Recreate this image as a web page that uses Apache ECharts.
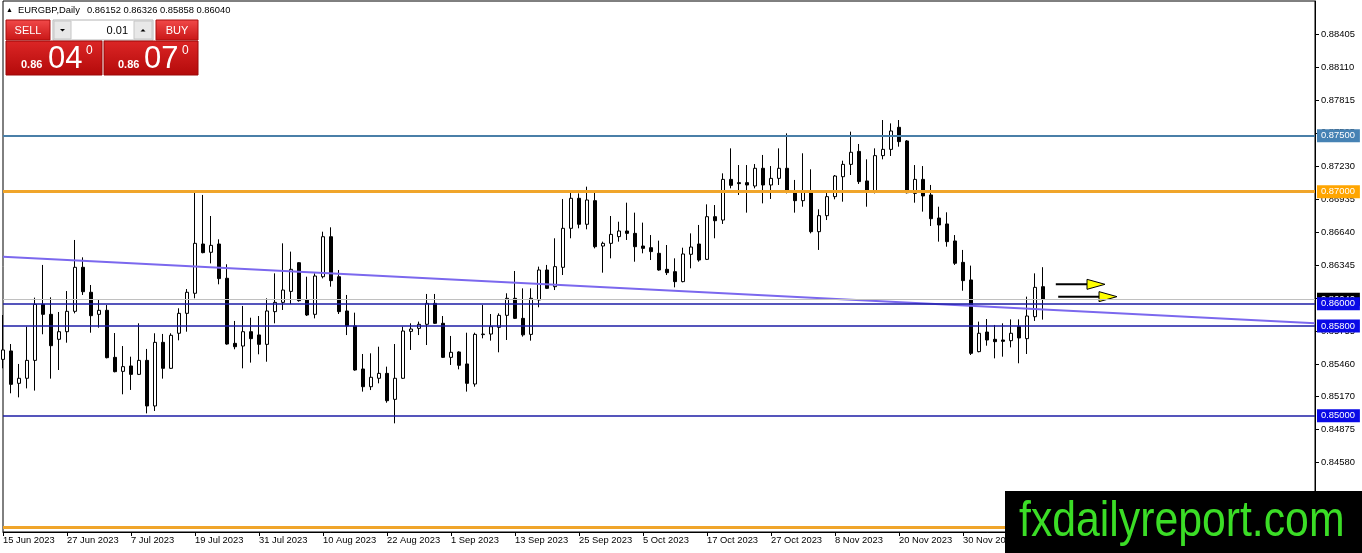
<!DOCTYPE html>
<html>
	<head>
		<meta charset="utf-8" />
		<title>EURGBP,Daily</title>
		<script type="text/javascript" src="https://cdn.jsdelivr.net/npm/echarts@6/dist/echarts.min.js"></script>
		<style>
			html, body { margin: 0; padding: 0; background: #fff; }
		</style>
		<script type="text/javascript">
		var myChart;

		var symbolName = 'EURGBP,Daily';

		var dates = [
			'15 Jun 2023','16 Jun 2023','19 Jun 2023','20 Jun 2023','21 Jun 2023','22 Jun 2023','23 Jun 2023','26 Jun 2023','27 Jun 2023','28 Jun 2023','29 Jun 2023','30 Jun 2023',
			'3 Jul 2023','4 Jul 2023','5 Jul 2023','6 Jul 2023','7 Jul 2023','10 Jul 2023','11 Jul 2023','12 Jul 2023','13 Jul 2023','14 Jul 2023','17 Jul 2023','18 Jul 2023','19 Jul 2023','20 Jul 2023','21 Jul 2023','24 Jul 2023','25 Jul 2023','26 Jul 2023','27 Jul 2023','28 Jul 2023','31 Jul 2023',
			'1 Aug 2023','2 Aug 2023','3 Aug 2023','4 Aug 2023','7 Aug 2023','8 Aug 2023','9 Aug 2023','10 Aug 2023','11 Aug 2023','14 Aug 2023','15 Aug 2023','16 Aug 2023','17 Aug 2023','18 Aug 2023','21 Aug 2023','22 Aug 2023','23 Aug 2023','24 Aug 2023','25 Aug 2023','28 Aug 2023','29 Aug 2023','30 Aug 2023','31 Aug 2023',
			'1 Sep 2023','4 Sep 2023','5 Sep 2023','6 Sep 2023','7 Sep 2023','8 Sep 2023','11 Sep 2023','12 Sep 2023','13 Sep 2023','14 Sep 2023','15 Sep 2023','18 Sep 2023','19 Sep 2023','20 Sep 2023','21 Sep 2023','22 Sep 2023','25 Sep 2023','26 Sep 2023','27 Sep 2023','28 Sep 2023','29 Sep 2023',
			'2 Oct 2023','3 Oct 2023','4 Oct 2023','5 Oct 2023','6 Oct 2023','9 Oct 2023','10 Oct 2023','11 Oct 2023','12 Oct 2023','13 Oct 2023','16 Oct 2023','17 Oct 2023','18 Oct 2023','19 Oct 2023','20 Oct 2023','23 Oct 2023','24 Oct 2023','25 Oct 2023','26 Oct 2023','27 Oct 2023','30 Oct 2023','31 Oct 2023',
			'1 Nov 2023','2 Nov 2023','3 Nov 2023','6 Nov 2023','7 Nov 2023','8 Nov 2023','9 Nov 2023','10 Nov 2023','13 Nov 2023','14 Nov 2023','15 Nov 2023','16 Nov 2023','17 Nov 2023','20 Nov 2023','21 Nov 2023','22 Nov 2023','23 Nov 2023','24 Nov 2023','27 Nov 2023','28 Nov 2023','29 Nov 2023','30 Nov 2023',
			'1 Dec 2023','4 Dec 2023','5 Dec 2023','6 Dec 2023','7 Dec 2023','8 Dec 2023','11 Dec 2023','12 Dec 2023','13 Dec 2023','14 Dec 2023'
		];

		var opens = [
			0.85503, 0.85578, 0.85289, 0.85334, 0.85494, 0.85994, 0.85905, 0.85682, 0.85750, 0.85932,
			0.86325, 0.86102, 0.85905, 0.85941, 0.85521, 0.85396, 0.85444, 0.85369, 0.85494, 0.85087,
			0.85655, 0.85423, 0.85736, 0.85914, 0.86093, 0.86533, 0.86459, 0.86533, 0.86227, 0.85646,
			0.85622, 0.85750, 0.85721, 0.85637, 0.85929, 0.86012, 0.86110, 0.86366, 0.86033, 0.85905,
			0.86241, 0.86598, 0.86241, 0.85935, 0.85801, 0.85417, 0.85259, 0.85334, 0.85378, 0.85146,
			0.85334, 0.85753, 0.85780, 0.85816, 0.86003, 0.85825, 0.85521, 0.85569, 0.85462, 0.85283,
			0.85724, 0.85729, 0.85789, 0.85896, 0.86048, 0.85869, 0.85726, 0.86033, 0.86301, 0.86152,
			0.86325, 0.86673, 0.86941, 0.86709, 0.86920, 0.86515, 0.86539, 0.86599, 0.86649, 0.86628,
			0.86515, 0.86500, 0.86450, 0.86307, 0.86286, 0.86197, 0.86441, 0.86533, 0.86396, 0.86777,
			0.86747, 0.87110, 0.87081, 0.87081, 0.87051, 0.87209, 0.87060, 0.87119, 0.87209, 0.87000,
			0.86920, 0.87009, 0.86643, 0.86786, 0.86956, 0.87134, 0.87244, 0.87360, 0.87096, 0.87000,
			0.87322, 0.87378, 0.87575, 0.87453, 0.86985, 0.87110, 0.86971, 0.86765, 0.86712, 0.86560,
			0.86369, 0.86212, 0.85572, 0.85747, 0.85682, 0.85676, 0.85670, 0.85795, 0.85688, 0.85884, 0.86152
		];
		var highs = [
			0.85899, 0.85640, 0.85462, 0.85795, 0.86054, 0.86346, 0.86057, 0.85926, 0.86113, 0.86569,
			0.86414, 0.86167, 0.86033, 0.85988, 0.85738, 0.85622, 0.85527, 0.85825, 0.85596, 0.85736,
			0.85730, 0.85736, 0.85959, 0.86131, 0.86991, 0.86971, 0.86783, 0.86575, 0.86352, 0.85846,
			0.85980, 0.85875, 0.85890, 0.86048, 0.86271, 0.86539, 0.86465, 0.86370, 0.86241, 0.86271,
			0.86643, 0.86682, 0.86301, 0.86078, 0.85920, 0.85551, 0.85557, 0.85616, 0.85438, 0.85640,
			0.85795, 0.85825, 0.85840, 0.86087, 0.86087, 0.85890, 0.85712, 0.85575, 0.85741, 0.85741,
			0.85988, 0.85908, 0.85914, 0.86093, 0.86292, 0.86137, 0.86137, 0.86331, 0.86346, 0.86584,
			0.86935, 0.86991, 0.86985, 0.87045, 0.87000, 0.86554, 0.86783, 0.86732, 0.86902, 0.86813,
			0.86724, 0.86613, 0.86563, 0.86524, 0.86405, 0.86500, 0.86628, 0.86703, 0.86887, 0.86881,
			0.87164, 0.87387, 0.87238, 0.87238, 0.87247, 0.87328, 0.87229, 0.87387, 0.87521, 0.87105,
			0.87343, 0.87200, 0.86843, 0.87015, 0.87149, 0.87277, 0.87536, 0.87426, 0.87289, 0.87387,
			0.87640, 0.87610, 0.87640, 0.87461, 0.87238, 0.87229, 0.87060, 0.86866, 0.86816, 0.86613,
			0.86480, 0.86340, 0.85840, 0.85863, 0.85810, 0.85825, 0.85860, 0.85860, 0.86063, 0.86271, 0.86326
		];
		var lows = [
			0.85423, 0.85200, 0.85164, 0.85244, 0.85224, 0.85727, 0.85331, 0.85408, 0.85652, 0.85914,
			0.86078, 0.85741, 0.85786, 0.85512, 0.85387, 0.85191, 0.85230, 0.85363, 0.85021, 0.85042,
			0.85331, 0.85417, 0.85673, 0.85750, 0.86048, 0.86450, 0.86360, 0.86173, 0.85634, 0.85593,
			0.85423, 0.85474, 0.85548, 0.85482, 0.85825, 0.85944, 0.85997, 0.86018, 0.85890, 0.85869,
			0.86226, 0.86152, 0.85908, 0.85720, 0.85402, 0.85215, 0.85229, 0.85289, 0.85116, 0.84932,
			0.85328, 0.85587, 0.85720, 0.85631, 0.85819, 0.85515, 0.85453, 0.85414, 0.85215, 0.85259,
			0.85691, 0.85670, 0.85566, 0.85676, 0.85863, 0.85706, 0.85670, 0.85968, 0.86131, 0.86122,
			0.86256, 0.86584, 0.86673, 0.86664, 0.86494, 0.86277, 0.86405, 0.86554, 0.86569, 0.86375,
			0.86450, 0.86390, 0.86295, 0.86256, 0.86146, 0.86191, 0.86316, 0.86375, 0.86390, 0.86584,
			0.86712, 0.87030, 0.86971, 0.86813, 0.87030, 0.86896, 0.86935, 0.87060, 0.86985, 0.86813,
			0.86866, 0.86628, 0.86480, 0.86747, 0.86932, 0.86911, 0.87149, 0.87069, 0.86866, 0.86985,
			0.87289, 0.87319, 0.87402, 0.86985, 0.86902, 0.86822, 0.86694, 0.86554, 0.86509, 0.86346,
			0.86116, 0.85542, 0.85566, 0.85625, 0.85512, 0.85527, 0.85610, 0.85468, 0.85551, 0.85846, 0.85858
		];
		var closes = [
			0.85587, 0.85280, 0.85334, 0.85494, 0.85994, 0.85905, 0.85625, 0.85750, 0.85932, 0.86325,
			0.86107, 0.85893, 0.85941, 0.85518, 0.85393, 0.85438, 0.85369, 0.85494, 0.85087, 0.85655,
			0.85423, 0.85718, 0.85914, 0.86102, 0.86539, 0.86456, 0.86521, 0.86224, 0.85640, 0.85616,
			0.85750, 0.85688, 0.85637, 0.85935, 0.86012, 0.86122, 0.86307, 0.86027, 0.85899, 0.86247,
			0.86598, 0.86206, 0.85929, 0.85801, 0.85408, 0.85259, 0.85343, 0.85378, 0.85134, 0.85334,
			0.85756, 0.85774, 0.85816, 0.86003, 0.85825, 0.85521, 0.85566, 0.85450, 0.85289, 0.85726,
			0.85729, 0.85795, 0.85896, 0.86048, 0.85869, 0.85722, 0.86048, 0.86301, 0.86137, 0.86331,
			0.86673, 0.86941, 0.86709, 0.86926, 0.86509, 0.86539, 0.86619, 0.86649, 0.86628, 0.86509,
			0.86494, 0.86465, 0.86301, 0.86277, 0.86197, 0.86444, 0.86506, 0.86390, 0.86777, 0.86741,
			0.87110, 0.87057, 0.87072, 0.87060, 0.87209, 0.87060, 0.87119, 0.87209, 0.87000, 0.86920,
			0.87009, 0.86643, 0.86786, 0.86956, 0.87140, 0.87244, 0.87352, 0.87090, 0.87000, 0.87322,
			0.87378, 0.87542, 0.87447, 0.86991, 0.87110, 0.86962, 0.86759, 0.86703, 0.86554, 0.86361,
			0.86206, 0.85557, 0.85736, 0.85676, 0.85661, 0.85664, 0.85736, 0.85694, 0.85890, 0.86146, 0.86040
		];

		// empty bars kept on the right (chart shift)
		var shiftBars = 34;
		var spread = 0.00030;

		// price scale ticks as MT4 prints them
		var yTickLabels = ['0.84580','0.84875','0.85170','0.85460','0.85755','0.86050','0.86345','0.86640','0.86935','0.87230','0.87525','0.87815','0.88110','0.88405'];
		var priceMin = 0.839616;
		var priceMax = 0.887027;

		// horizontal levels (first one is the bid line)
		var levelPrices = [0.86040, 0.87500, 0.87000, 0.86000, 0.85800, 0.85000, 0.84000];
		var levelColors = ['#c0c0c0', '#4a7fa8', '#f0a52a', '#1c1ca6', '#1c1ca6', '#1c1ca6', '#f0a52a'];
		var levelWidths = [1, 2, 3, 1.5, 1.5, 1.5, 3];
		var levelLabelBg = ['#000000', '#4682b4', '#ffa500', '#0a0ae6', '#0a0ae6', '#0a0ae6', '#ffa500'];

		// trend line, bar index -> price
		var trendBars = [0, 164];
		var trendPrices = [0.86420, 0.85825];

		// the two arrows: start bar, tip bar, price
		var arrowFrom = [131.6, 131.9];
		var arrowTo = [137.75, 139.25];
		var arrowPrice = [0.86173, 0.86063];

		var font = "'Liberation Sans', Arial, sans-serif";

		function redGrad(a, b){
			return new echarts.graphic.LinearGradient(0, 0, 0, 1, [{offset: 0, color: a}, {offset: 1, color: b}]);
		}

		function buildOption(){
			var cats = dates.slice();
			for (var k = 0; k < shiftBars; k++) cats.push('');
			var candles = dates.map(function(d, i){
				return [opens[i], closes[i], lows[i], highs[i]];
			});
			var last = dates.length - 1;
			var quote = [opens[last], highs[last], lows[last], closes[last]].map(function(v){ return v.toFixed(5); }).join(' ');
			var bid = closes[last].toFixed(5);
			var ask = (closes[last] + spread).toFixed(5);

			var levels = levelPrices.map(function(p, i){
				return {
					yAxis: p,
					lineStyle: {color: levelColors[i], width: levelWidths[i], type: 'solid'},
					label: {
						show: true, position: 'end', distance: 2,
						formatter: p.toFixed(5),
						color: '#fff', backgroundColor: levelLabelBg[i],
						padding: [1, 5, 1, 4], lineHeight: 11,
						fontSize: 9.4, fontFamily: font
					}
				};
			});

			var arrows = arrowFrom.map(function(v, i){ return [v, arrowTo[i], arrowPrice[i]]; });

			var elements = [
				{type: 'text', style: {text: '\u25B2', x: 6, y: 10.5, fontSize: 7, fill: '#000', textVerticalAlign: 'middle'}},
				{type: 'text', style: {text: symbolName, x: 18, y: 10.5, fontSize: 9.4, fontFamily: font, fill: '#000', textVerticalAlign: 'middle'}},
				{type: 'text', style: {text: quote, x: 87, y: 10.5, fontSize: 9.4, fontFamily: font, fill: '#000', textVerticalAlign: 'middle'}},

				{type: 'rect', shape: {x: 6, y: 20, width: 44, height: 20}, style: {fill: redGrad('#f24a4a', '#c81616'), stroke: '#a80e0e', lineWidth: 1}},
				{type: 'text', style: {text: 'SELL', x: 28, y: 30.5, fontSize: 11, fontFamily: font, fill: '#fff', textAlign: 'center', textVerticalAlign: 'middle'}},
				{type: 'rect', shape: {x: 53, y: 20, width: 100, height: 20}, style: {fill: '#fff', stroke: '#b4b4b4', lineWidth: 1}},
				{type: 'rect', shape: {x: 54, y: 21, width: 17, height: 18}, style: {fill: '#e8e8e8', stroke: '#c6c6c6', lineWidth: 1}},
				{type: 'rect', shape: {x: 134, y: 21, width: 18, height: 18}, style: {fill: '#e8e8e8', stroke: '#c6c6c6', lineWidth: 1}},
				{type: 'polygon', shape: {points: [[60, 29], [65, 29], [62.5, 31.5]]}, style: {fill: '#000'}},
				{type: 'polygon', shape: {points: [[140.5, 31.5], [145.5, 31.5], [143, 29]]}, style: {fill: '#000'}},
				{type: 'text', style: {text: '0.01', x: 128, y: 30.5, fontSize: 11, fontFamily: font, fill: '#000', textAlign: 'right', textVerticalAlign: 'middle'}},
				{type: 'rect', shape: {x: 156, y: 20, width: 42, height: 20}, style: {fill: redGrad('#f24a4a', '#c81616'), stroke: '#a80e0e', lineWidth: 1}},
				{type: 'text', style: {text: 'BUY', x: 177, y: 30.5, fontSize: 11, fontFamily: font, fill: '#fff', textAlign: 'center', textVerticalAlign: 'middle'}},

				{type: 'rect', shape: {x: 6, y: 41, width: 96, height: 34}, style: {fill: redGrad('#dc2626', '#b30a0a'), stroke: '#9c0808', lineWidth: 1}},
				{type: 'rect', shape: {x: 104, y: 41, width: 94, height: 34}, style: {fill: redGrad('#dc2626', '#b30a0a'), stroke: '#9c0808', lineWidth: 1}},
				{type: 'text', style: {text: bid.slice(0, 4), x: 21, y: 65, fontSize: 11, fontWeight: 'bold', fontFamily: font, fill: '#fff', textVerticalAlign: 'middle'}},
				{type: 'text', style: {text: bid.slice(4, 6), x: 48, y: 59.5, fontSize: 31, fontFamily: font, fill: '#fff', textVerticalAlign: 'middle'}},
				{type: 'text', style: {text: bid.slice(6), x: 86, y: 51, fontSize: 12, fontFamily: font, fill: '#fff', textVerticalAlign: 'middle'}},
				{type: 'text', style: {text: ask.slice(0, 4), x: 118, y: 65, fontSize: 11, fontWeight: 'bold', fontFamily: font, fill: '#fff', textVerticalAlign: 'middle'}},
				{type: 'text', style: {text: ask.slice(4, 6), x: 144, y: 59.5, fontSize: 31, fontFamily: font, fill: '#fff', textVerticalAlign: 'middle'}},
				{type: 'text', style: {text: ask.slice(6), x: 182, y: 51, fontSize: 12, fontFamily: font, fill: '#fff', textVerticalAlign: 'middle'}},

				// watermark
				{type: 'rect', z: 100, shape: {x: 1005, y: 491, width: 357, height: 62}, style: {fill: '#000'}},
				{type: 'text', z: 101, x: 1019, y: 522.5, scaleX: 0.855, style: {text: 'fxdailyreport.com', x: 0, y: 0, fontSize: 50, fontFamily: font, fill: '#3bdd26', textVerticalAlign: 'middle'}}
			];

			return {
				animation: false,
				backgroundColor: '#fff',
				grid: {left: 3, right: 47, top: 1, bottom: 21, show: true, borderColor: '#000', borderWidth: 1, backgroundColor: '#fff'},
				xAxis: [
					{
						type: 'category',
						data: cats,
						boundaryGap: false,
						axisLine: {lineStyle: {color: '#000', width: 1}},
						axisTick: {interval: 7, length: 4, lineStyle: {color: '#000'}},
						axisLabel: {interval: 7, align: 'left', margin: 4, fontSize: 9.4, fontFamily: font, color: '#000'},
						splitLine: {show: false}
					},
					{type: 'value', min: 0, max: cats.length - 1, show: false}
				],
				yAxis: {
					type: 'value',
					position: 'right',
					min: priceMin,
					max: priceMax,
					axisLine: {show: true, onZero: false, lineStyle: {color: '#000', width: 1}},
					axisTick: {show: true, length: 4, lineStyle: {color: '#000'}, customValues: yTickLabels.map(parseFloat)},
					axisLabel: {
						margin: 6, fontSize: 9.4, fontFamily: font, color: '#000',
						customValues: yTickLabels.map(parseFloat),
						formatter: function(v){ return v.toFixed(5); }
					},
					splitLine: {show: false}
				},
				series: [
					{
						type: 'candlestick',
						data: candles,
						barWidth: 4,
						silent: true,
						z: 2,
						itemStyle: {color: '#fff', color0: '#000', borderColor: '#000', borderColor0: '#000', borderWidth: 1}
					},
					{
						type: 'line',
						xAxisIndex: 1,
						data: trendBars.map(function(b, i){ return [b, trendPrices[i]]; }),
						symbol: 'none',
						silent: true,
						z: 3,
						lineStyle: {color: '#7b68ee', width: 2},
						markLine: {silent: true, symbol: 'none', precision: 5, animation: false, data: levels}
					},
					{
						type: 'custom',
						xAxisIndex: 1,
						data: arrows,
						encode: {x: [0, 1], y: 2},
						silent: true,
						z: 4,
						renderItem: function(params, api){
							var a = api.coord([api.value(0), api.value(2)]);
							var b = api.coord([api.value(1), api.value(2)]);
							var head = 18, half = 5;
							return {
								type: 'group',
								children: [
									{type: 'line', shape: {x1: a[0], y1: a[1], x2: b[0] - head + 1, y2: b[1]}, style: {stroke: '#000', lineWidth: 2}},
									{type: 'polygon', shape: {points: [[b[0] - head, b[1] - half], [b[0], b[1]], [b[0] - head, b[1] + half]]}, style: {fill: '#ffff00', stroke: '#000', lineWidth: 1}}
								]
							};
						}
					}
				],
				graphic: {elements: elements}
			};
		}

		window.onload = function(){
			myChart = echarts.init(document.getElementById('main'));
			myChart.setOption(buildOption());
		}
		</script>
	</head>
	<body>
		<div id="main" style="width: 1362px;height:553px;"></div>
	</body>
</html>
